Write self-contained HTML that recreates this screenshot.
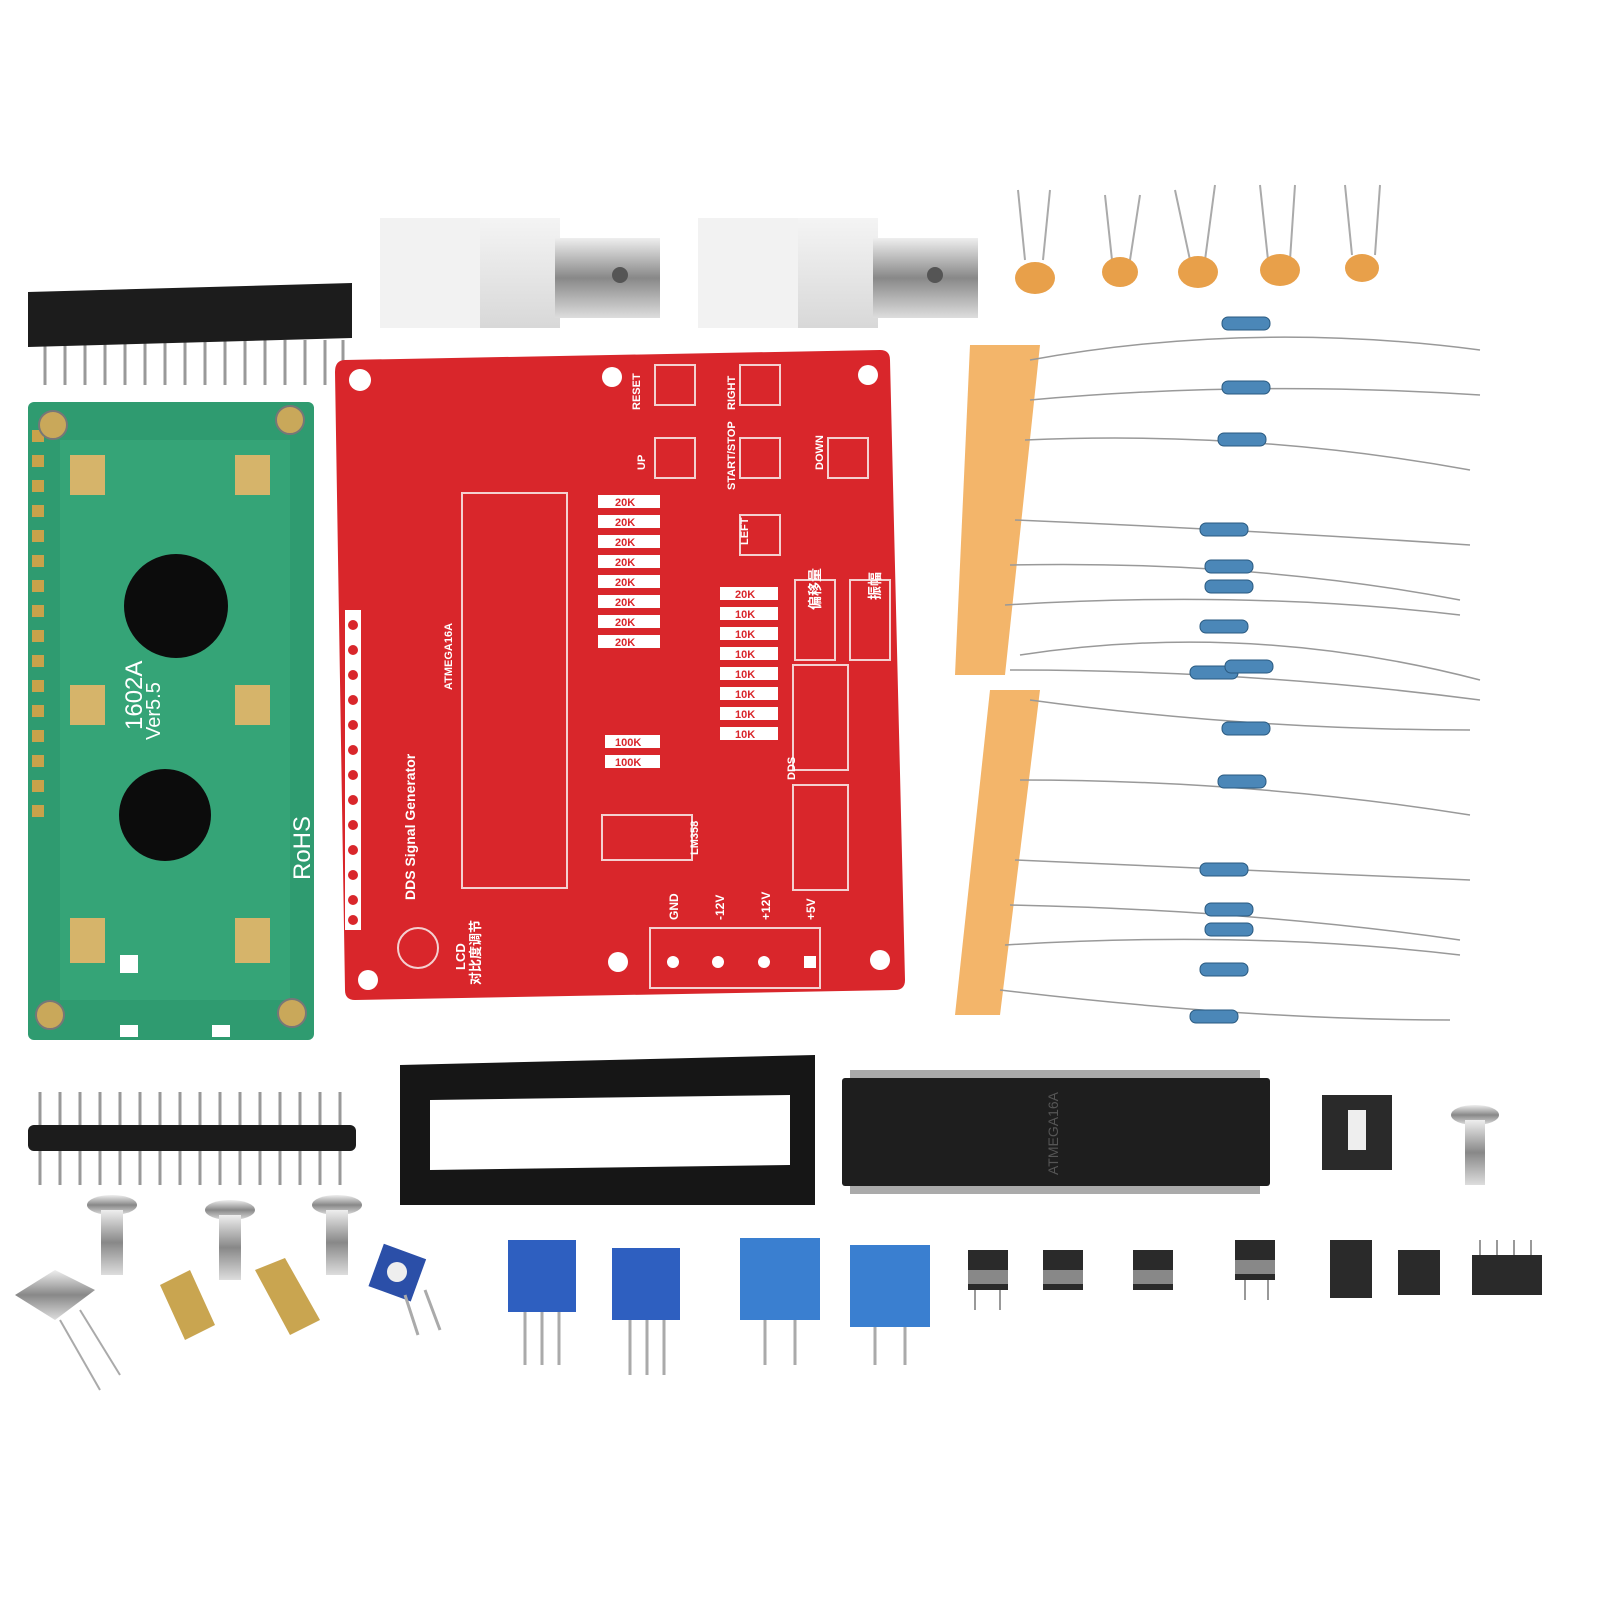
<!DOCTYPE html>
<html><head><meta charset="utf-8"><style>
html,body{margin:0;padding:0;background:#fff;}
svg{display:block}
text{font-family:"Liberation Sans","Noto Sans CJK SC",sans-serif;}
</style></head><body>
<svg width="1600" height="1600" viewBox="0 0 1600 1600" xmlns="http://www.w3.org/2000/svg">
<defs>
<linearGradient id="silver" x1="0" y1="0" x2="0" y2="1"><stop offset="0" stop-color="#eee"/><stop offset=".5" stop-color="#888"/><stop offset="1" stop-color="#ddd"/></linearGradient>
<linearGradient id="wht" x1="0" y1="0" x2="0" y2="1"><stop offset="0" stop-color="#f4f4f4"/><stop offset="1" stop-color="#d8d8d8"/></linearGradient>
</defs>

<g>
<g stroke="#999" stroke-width="3">
<line x1="45" y1="340" x2="45" y2="385"/><line x1="65" y1="340" x2="65" y2="385"/><line x1="85" y1="340" x2="85" y2="385"/><line x1="105" y1="340" x2="105" y2="385"/><line x1="125" y1="340" x2="125" y2="385"/><line x1="145" y1="340" x2="145" y2="385"/><line x1="165" y1="340" x2="165" y2="385"/><line x1="185" y1="340" x2="185" y2="385"/><line x1="205" y1="340" x2="205" y2="385"/><line x1="225" y1="340" x2="225" y2="385"/><line x1="245" y1="340" x2="245" y2="385"/><line x1="265" y1="340" x2="265" y2="385"/><line x1="285" y1="340" x2="285" y2="385"/><line x1="305" y1="340" x2="305" y2="385"/><line x1="325" y1="340" x2="325" y2="385"/><line x1="343" y1="340" x2="343" y2="385"/>
</g>
<path d="M28 292 L352 283 L352 338 L28 347 Z" fill="#1c1c1c"/>
</g>

<g>
<rect x="28" y="402" width="286" height="638" rx="6" fill="#2f9b70"/>
<rect x="60" y="440" width="230" height="560" fill="#35a477"/>
<g fill="#c8a24a">
<rect x="32" y="430" width="12" height="12"/><rect x="32" y="455" width="12" height="12"/><rect x="32" y="480" width="12" height="12"/><rect x="32" y="505" width="12" height="12"/><rect x="32" y="530" width="12" height="12"/><rect x="32" y="555" width="12" height="12"/><rect x="32" y="580" width="12" height="12"/><rect x="32" y="605" width="12" height="12"/><rect x="32" y="630" width="12" height="12"/><rect x="32" y="655" width="12" height="12"/><rect x="32" y="680" width="12" height="12"/><rect x="32" y="705" width="12" height="12"/><rect x="32" y="730" width="12" height="12"/><rect x="32" y="755" width="12" height="12"/><rect x="32" y="780" width="12" height="12"/><rect x="32" y="805" width="12" height="12"/>
</g>
<g fill="#c9a85a" stroke="#777" stroke-width="2">
<circle cx="53" cy="425" r="14"/><circle cx="290" cy="420" r="14"/><circle cx="50" cy="1015" r="14"/><circle cx="292" cy="1013" r="14"/>
</g>
<g fill="#d6b46a">
<rect x="70" y="455" width="35" height="40"/><rect x="235" y="455" width="35" height="40"/>
<rect x="70" y="685" width="35" height="40"/><rect x="235" y="685" width="35" height="40"/>
<rect x="70" y="918" width="35" height="45"/><rect x="235" y="918" width="35" height="45"/>
</g>
<circle cx="176" cy="606" r="52" fill="#0c0c0c"/>
<circle cx="165" cy="815" r="46" fill="#0c0c0c"/>
<g fill="#fff" font-size="20">
<text transform="translate(142,730) rotate(-90)" font-size="24">1602A</text>
<text transform="translate(160,740) rotate(-90)">Ver5.5</text>
<text transform="translate(310,880) rotate(-90)" font-size="24">RoHS</text>
</g>
<g fill="#fff"><rect x="120" y="955" width="18" height="18"/><rect x="212" y="1025" width="18" height="12"/><rect x="120" y="1025" width="18" height="12"/></g>
</g>

<g>
<rect x="380" y="218" width="180" height="110" fill="url(#wht)"/>
<rect x="380" y="218" width="100" height="110" fill="#f2f2f2"/>
<rect x="555" y="238" width="105" height="80" fill="url(#silver)"/>
<circle cx="620" cy="275" r="8" fill="#555"/>
<rect x="698" y="218" width="180" height="110" fill="url(#wht)"/>
<rect x="698" y="218" width="100" height="110" fill="#f2f2f2"/>
<rect x="873" y="238" width="105" height="80" fill="url(#silver)"/>
<circle cx="935" cy="275" r="8" fill="#555"/>
</g>

<g stroke="#aaa" stroke-width="2" fill="none">
<path d="M1018 190 L1025 260 M1050 190 L1043 260"/>
<path d="M1105 195 L1112 260 M1140 195 L1130 260"/>
<path d="M1175 190 L1190 260 M1215 185 L1205 260"/>
<path d="M1260 185 L1268 260 M1295 185 L1290 260"/>
<path d="M1345 185 L1352 255 M1380 185 L1375 255"/>
</g>
<g fill="#e8a04a">
<ellipse cx="1035" cy="278" rx="20" ry="16"/><ellipse cx="1120" cy="272" rx="18" ry="15"/><ellipse cx="1198" cy="272" rx="20" ry="16"/><ellipse cx="1280" cy="270" rx="20" ry="16"/><ellipse cx="1362" cy="268" rx="17" ry="14"/>
</g>

<g>
<path d="M970 345 L1040 345 L1005 675 L955 675 Z" fill="#f3b56a"/>
<path d="M990 690 L1040 690 L1000 1015 L955 1015 Z" fill="#f3b56a"/>
<g stroke="#999" stroke-width="1.5" fill="none">
<path d="M1030 360 Q1250 320 1480 350"/>
<path d="M1030 400 Q1250 380 1480 395"/>
<path d="M1025 440 Q1250 430 1470 470"/>
<path d="M1015 520 Q1250 530 1470 545"/>
<path d="M1010 565 Q1250 560 1460 600"/>
<path d="M1005 605 Q1250 590 1460 615"/>
<path d="M1020 655 Q1250 620 1480 680"/>
<path d="M1010 670 Q1250 670 1480 700"/>
<path d="M1030 700 Q1250 730 1470 730"/>
<path d="M1020 780 Q1250 780 1470 815"/>
<path d="M1015 860 Q1250 870 1470 880"/>
<path d="M1010 905 Q1250 910 1460 940"/>
<path d="M1005 945 Q1250 930 1460 955"/>
<path d="M1000 990 Q1250 1020 1450 1020"/>
</g>
<g fill="#4b87b8" stroke="#2a5a80" stroke-width="1">
<rect x="1222" y="317" width="48" height="13" rx="6"/>
<rect x="1222" y="381" width="48" height="13" rx="6"/>
<rect x="1218" y="433" width="48" height="13" rx="6"/>
<rect x="1200" y="523" width="48" height="13" rx="6"/>
<rect x="1205" y="560" width="48" height="13" rx="6"/>
<rect x="1205" y="580" width="48" height="13" rx="6"/>
<rect x="1200" y="620" width="48" height="13" rx="6"/>
<rect x="1190" y="666" width="48" height="13" rx="6"/>
<rect x="1225" y="660" width="48" height="13" rx="6"/>
<rect x="1222" y="722" width="48" height="13" rx="6"/>
<rect x="1218" y="775" width="48" height="13" rx="6"/>
<rect x="1200" y="863" width="48" height="13" rx="6"/>
<rect x="1205" y="903" width="48" height="13" rx="6"/>
<rect x="1205" y="923" width="48" height="13" rx="6"/>
<rect x="1200" y="963" width="48" height="13" rx="6"/>
<rect x="1190" y="1010" width="48" height="13" rx="6"/>
</g>
</g>

<g>
<path d="M345 360 L880 350 Q890 350 890 360 L905 980 Q905 990 895 990 L355 1000 Q345 1000 345 990 L335 372 Q335 360 345 360 Z" fill="#d9262b"/>
<g fill="#fff"><circle cx="360" cy="380" r="11"/><circle cx="612" cy="377" r="10"/><circle cx="868" cy="375" r="10"/><circle cx="368" cy="980" r="10"/><circle cx="618" cy="962" r="10"/><circle cx="880" cy="960" r="10"/></g>
<g fill="none" stroke="#f4d0d0" stroke-width="2">
<rect x="462" y="493" width="105" height="395"/>
<rect x="602" y="815" width="90" height="45"/>
<rect x="650" y="928" width="170" height="60"/>
<rect x="655" y="365" width="40" height="40"/><rect x="740" y="365" width="40" height="40"/>
<rect x="655" y="438" width="40" height="40"/><rect x="740" y="438" width="40" height="40"/><rect x="828" y="438" width="40" height="40"/>
<rect x="740" y="515" width="40" height="40"/>
<rect x="793" y="665" width="55" height="105"/><rect x="793" y="785" width="55" height="105"/>
<rect x="795" y="580" width="40" height="80"/><rect x="850" y="580" width="40" height="80"/>
<circle cx="418" cy="948" r="20"/>
</g>
<g fill="#fff"><rect x="345" y="610" width="16" height="320"/></g>
<g fill="#d9262b"><circle cx="353" cy="625" r="5"/><circle cx="353" cy="650" r="5"/><circle cx="353" cy="675" r="5"/><circle cx="353" cy="700" r="5"/><circle cx="353" cy="725" r="5"/><circle cx="353" cy="750" r="5"/><circle cx="353" cy="775" r="5"/><circle cx="353" cy="800" r="5"/><circle cx="353" cy="825" r="5"/><circle cx="353" cy="850" r="5"/><circle cx="353" cy="875" r="5"/><circle cx="353" cy="900" r="5"/><circle cx="353" cy="920" r="5"/></g>
<g fill="#fff">
<rect x="598" y="495" width="62" height="13"/><rect x="598" y="515" width="62" height="13"/><rect x="598" y="535" width="62" height="13"/><rect x="598" y="555" width="62" height="13"/><rect x="598" y="575" width="62" height="13"/><rect x="598" y="595" width="62" height="13"/><rect x="598" y="615" width="62" height="13"/><rect x="598" y="635" width="62" height="13"/>
<rect x="720" y="587" width="58" height="13"/><rect x="720" y="607" width="58" height="13"/><rect x="720" y="627" width="58" height="13"/><rect x="720" y="647" width="58" height="13"/><rect x="720" y="667" width="58" height="13"/><rect x="720" y="687" width="58" height="13"/><rect x="720" y="707" width="58" height="13"/><rect x="720" y="727" width="58" height="13"/>
<rect x="605" y="735" width="55" height="13"/><rect x="605" y="755" width="55" height="13"/>
</g>
<g fill="#d9262b" font-size="11" font-weight="bold">
<text x="615" y="506">20K</text><text x="615" y="526">20K</text><text x="615" y="546">20K</text><text x="615" y="566">20K</text><text x="615" y="586">20K</text><text x="615" y="606">20K</text><text x="615" y="626">20K</text><text x="615" y="646">20K</text>
<text x="735" y="598">20K</text><text x="735" y="618">10K</text><text x="735" y="638">10K</text><text x="735" y="658">10K</text><text x="735" y="678">10K</text><text x="735" y="698">10K</text><text x="735" y="718">10K</text><text x="735" y="738">10K</text>
<text x="615" y="746">100K</text><text x="615" y="766">100K</text>
</g>
<g fill="#fff" font-size="14" font-weight="bold">
<text transform="translate(415,900) rotate(-90)">DDS Signal Generator</text>
<text transform="translate(452,690) rotate(-90)" font-size="11">ATMEGA16A</text>
<text transform="translate(678,920) rotate(-90)" font-size="12">GND</text>
<text transform="translate(724,920) rotate(-90)" font-size="12">-12V</text>
<text transform="translate(770,920) rotate(-90)" font-size="12">+12V</text>
<text transform="translate(815,920) rotate(-90)" font-size="12">+5V</text>
<text transform="translate(640,410) rotate(-90)" font-size="11">RESET</text>
<text transform="translate(735,490) rotate(-90)" font-size="11">START/STOP</text>
<text transform="translate(735,410) rotate(-90)" font-size="11">RIGHT</text>
<text transform="translate(823,470) rotate(-90)" font-size="11">DOWN</text>
<text transform="translate(748,545) rotate(-90)" font-size="11">LEFT</text>
<text transform="translate(645,470) rotate(-90)" font-size="11">UP</text>
<text transform="translate(465,970) rotate(-90)" font-size="13">LCD</text>
<text transform="translate(480,985) rotate(-90)" font-size="13">对比度调节</text>
<text transform="translate(820,610) rotate(-90)">偏移量</text>
<text transform="translate(880,600) rotate(-90)">振幅</text>
<text transform="translate(795,780) rotate(-90)" font-size="11">DDS</text>
<text transform="translate(698,855) rotate(-90)" font-size="11">LM358</text>
</g>
<g fill="#fff"><circle cx="673" cy="962" r="6"/><circle cx="718" cy="962" r="6"/><circle cx="764" cy="962" r="6"/><rect x="804" y="956" width="12" height="12"/></g>
</g>

<g stroke="#999" stroke-width="3">
<line x1="40" y1="1092" x2="40" y2="1185"/><line x1="60" y1="1092" x2="60" y2="1185"/><line x1="80" y1="1092" x2="80" y2="1185"/><line x1="100" y1="1092" x2="100" y2="1185"/><line x1="120" y1="1092" x2="120" y2="1185"/><line x1="140" y1="1092" x2="140" y2="1185"/><line x1="160" y1="1092" x2="160" y2="1185"/><line x1="180" y1="1092" x2="180" y2="1185"/><line x1="200" y1="1092" x2="200" y2="1185"/><line x1="220" y1="1092" x2="220" y2="1185"/><line x1="240" y1="1092" x2="240" y2="1185"/><line x1="260" y1="1092" x2="260" y2="1185"/><line x1="280" y1="1092" x2="280" y2="1185"/><line x1="300" y1="1092" x2="300" y2="1185"/><line x1="320" y1="1092" x2="320" y2="1185"/><line x1="340" y1="1092" x2="340" y2="1185"/>
</g>
<rect x="28" y="1125" width="328" height="26" rx="6" fill="#1c1c1c"/>

<path d="M400 1065 L815 1055 L815 1205 L400 1205 Z M430 1100 L790 1095 L790 1165 L430 1170 Z" fill="#161616" fill-rule="evenodd"/>

<rect x="842" y="1078" width="428" height="108" rx="3" fill="#1e1e1e"/>
<g fill="#aaa"><rect x="850" y="1070" width="410" height="8"/><rect x="850" y="1186" width="410" height="8"/></g>
<text transform="translate(1058,1175) rotate(-90)" fill="#555" font-size="14">ATMEGA16A</text>

<rect x="1322" y="1095" width="70" height="75" fill="#2a2a2a"/>
<rect x="1348" y="1110" width="18" height="40" fill="#eee"/>

<g>
<ellipse cx="1475" cy="1115" rx="24" ry="10" fill="url(#silver)"/><rect x="1465" y="1120" width="20" height="65" fill="url(#silver)"/>
<ellipse cx="112" cy="1205" rx="25" ry="10" fill="url(#silver)"/><rect x="101" y="1210" width="22" height="65" fill="url(#silver)"/>
<ellipse cx="230" cy="1210" rx="25" ry="10" fill="url(#silver)"/><rect x="219" y="1215" width="22" height="65" fill="url(#silver)"/>
<ellipse cx="337" cy="1205" rx="25" ry="10" fill="url(#silver)"/><rect x="326" y="1210" width="22" height="65" fill="url(#silver)"/>
</g>
<g><path d="M15 1295 L55 1270 L95 1290 L55 1320 Z" fill="url(#silver)"/><line x1="60" y1="1320" x2="100" y2="1390" stroke="#aaa" stroke-width="2"/><line x1="80" y1="1310" x2="120" y2="1375" stroke="#aaa" stroke-width="2"/></g>
<g fill="#c9a550"><path d="M160 1285 L190 1270 L215 1325 L185 1340 Z"/><path d="M255 1270 L285 1258 L320 1320 L290 1335 Z"/></g>
<g><rect x="375" y="1250" width="45" height="45" fill="#2b4fa8" transform="rotate(20 397 1272)"/><circle cx="397" cy="1272" r="10" fill="#eee"/><line x1="405" y1="1295" x2="418" y2="1335" stroke="#aaa" stroke-width="3"/><line x1="425" y1="1290" x2="440" y2="1330" stroke="#aaa" stroke-width="3"/></g>
<g fill="#2e5fc0">
<rect x="508" y="1240" width="68" height="72"/><rect x="612" y="1248" width="68" height="72"/>
<rect x="740" y="1238" width="80" height="82" fill="#3a7fd0"/><rect x="850" y="1245" width="80" height="82" fill="#3a7fd0"/>
</g>
<g stroke="#aaa" stroke-width="3">
<line x1="525" y1="1312" x2="525" y2="1365"/><line x1="542" y1="1312" x2="542" y2="1365"/><line x1="559" y1="1312" x2="559" y2="1365"/>
<line x1="630" y1="1320" x2="630" y2="1375"/><line x1="647" y1="1320" x2="647" y2="1375"/><line x1="664" y1="1320" x2="664" y2="1375"/>
<line x1="765" y1="1320" x2="765" y2="1365"/><line x1="795" y1="1320" x2="795" y2="1365"/>
<line x1="875" y1="1327" x2="875" y2="1365"/><line x1="905" y1="1327" x2="905" y2="1365"/>
</g>
<g fill="#2a2a2a">
<rect x="968" y="1250" width="40" height="40"/><rect x="1043" y="1250" width="40" height="40"/><rect x="1133" y="1250" width="40" height="40"/><rect x="1235" y="1240" width="40" height="40"/>
<rect x="1330" y="1240" width="42" height="58"/><rect x="1398" y="1250" width="42" height="45"/><rect x="1472" y="1255" width="70" height="40"/>
</g>
<g fill="#888"><rect x="968" y="1270" width="40" height="14"/><rect x="1043" y="1270" width="40" height="14"/><rect x="1133" y="1270" width="40" height="14"/><rect x="1235" y="1260" width="40" height="14"/></g>
<g stroke="#999" stroke-width="2">
<line x1="975" y1="1290" x2="975" y2="1310"/><line x1="1000" y1="1290" x2="1000" y2="1310"/>
<line x1="1245" y1="1280" x2="1245" y2="1300"/><line x1="1268" y1="1280" x2="1268" y2="1300"/>
<line x1="1480" y1="1240" x2="1480" y2="1255"/><line x1="1497" y1="1240" x2="1497" y2="1255"/><line x1="1514" y1="1240" x2="1514" y2="1255"/><line x1="1531" y1="1240" x2="1531" y2="1255"/>
</g>
</svg>
</body></html>
